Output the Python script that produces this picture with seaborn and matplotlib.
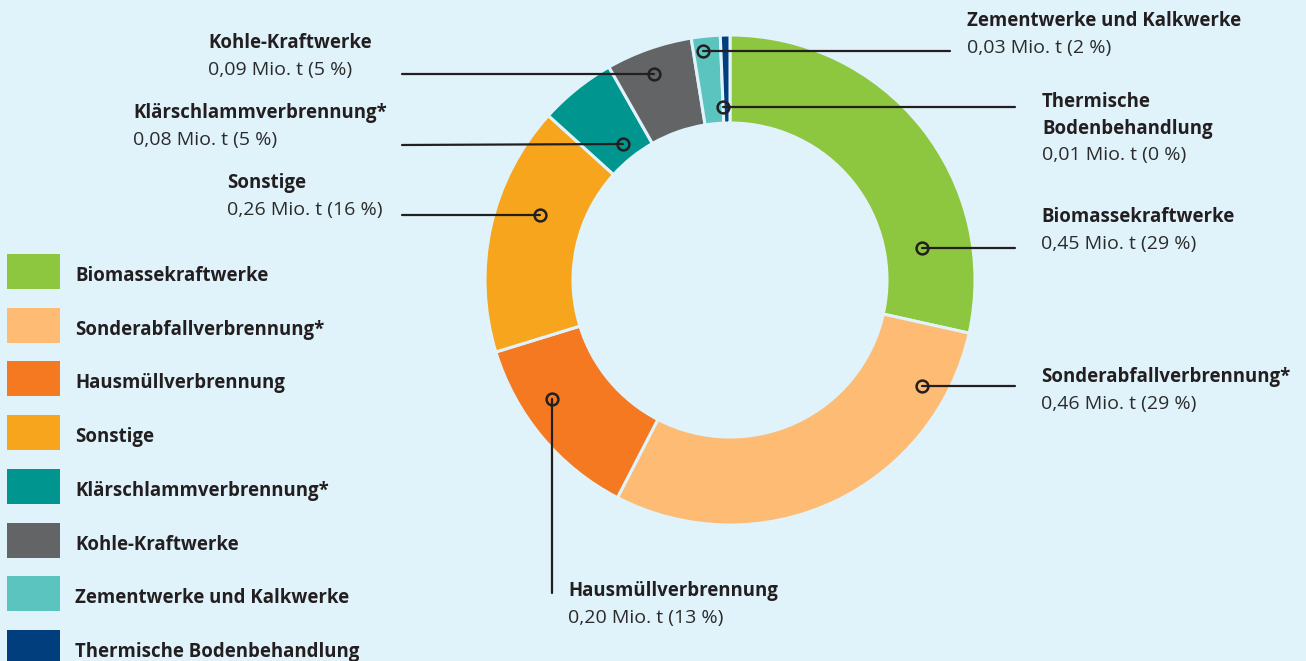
import matplotlib
matplotlib.use("Agg")
import matplotlib.pyplot as plt
from matplotlib.patches import Rectangle
import seaborn as sns

# data
categories = ["Biomassekraftwerke", "Sonderabfallverbrennung*", "Hausmüllverbrennung",
              "Sonstige", "Klärschlammverbrennung*", "Kohle-Kraftwerke",
              "Zementwerke und Kalkwerke", "Thermische Bodenbehandlung"]
values = [0.45, 0.46, 0.20, 0.26, 0.08, 0.09, 0.03, 0.01]
percents = [29, 29, 13, 16, 5, 5, 2, 0]
label_names = ["Biomassekraftwerke", "Sonderabfallverbrennung*", "Hausmüllverbrennung",
               "Sonstige", "Klärschlammverbrennung*", "Kohle-Kraftwerke",
               "Zementwerke und Kalkwerke", "Thermische\nBodenbehandlung"]
colors = ["#8dc63f", "#fdbb74", "#f47920", "#f7a51d",
          "#00968f", "#636466", "#5bc4bf", "#003e7e"]

# layout (pixels, y downwards)
center = (730, 280)
radius = 245
ring = 88
dots = [(922, 248), (922, 386), (552, 399), (540, 215),
        (623, 144), (654, 74), (703, 51), (723, 107)]
line_ends = [(1015, 248), (1015, 386), (552, 593), (402, 215),
             (402, 145), (402, 74), (950, 51), (1015, 107)]
text_pos = [(1041, 217), (1041, 377), (568, 591), (227, 183),
            (133, 113), (208, 43), (967, 21), (1042, 102)]

bg = "#e0f3fb"
ink = "#231f20"
fs_bold = 13.4
fs_val = 14.0

sns.set_theme(style="white")
plt.rcParams["font.family"] = ["Open Sans", "DejaVu Sans"]

fig = plt.figure(figsize=(13.06, 6.61), dpi=100, facecolor=bg)
ax = fig.add_axes([0, 0, 1, 1])
ax.set_facecolor(bg)

pal = sns.color_palette(colors)
ax.pie(values, colors=pal, startangle=-90, counterclock=True,
       center=center, radius=radius,
       wedgeprops=dict(width=ring, edgecolor=bg, linewidth=2.2))

ax.set_xlim(0, 1306)
ax.set_ylim(661, 0)
ax.set_aspect("equal")
ax.axis("off")

for i, name in enumerate(label_names):
    d = dots[i]
    e = line_ends[i]
    ax.plot([d[0], e[0]], [d[1], e[1]], color=ink, lw=1.6, zorder=3)
    ax.plot([d[0]], [d[1]], marker="o", ms=8.5, mfc="none", mec=ink, mew=1.8, zorder=4)
    tx, ty = text_pos[i]
    parts = name.split("\n")
    for k, part in enumerate(parts):
        ax.text(tx, ty + 27 * k, part, ha="left", va="center", fontsize=fs_bold,
                fontweight="bold", color=ink)
    val = f"{values[i]:.2f}".replace(".", ",") + f" Mio. t ({percents[i]} %)"
    ax.text(tx, ty + 26.5 * len(parts), val, ha="left", va="center", fontsize=fs_val,
            color="#2b2b2b")

# legend
for i, cat in enumerate(categories):
    y0 = 254 + i * 53.7
    ax.add_patch(Rectangle((7, y0), 53, 35, facecolor=colors[i], edgecolor="none"))
    ax.text(75, y0 + 22, cat, ha="left", va="center", fontsize=fs_bold,
            fontweight="bold", color=ink)

fig.savefig("out.png", dpi=100, facecolor=bg)
